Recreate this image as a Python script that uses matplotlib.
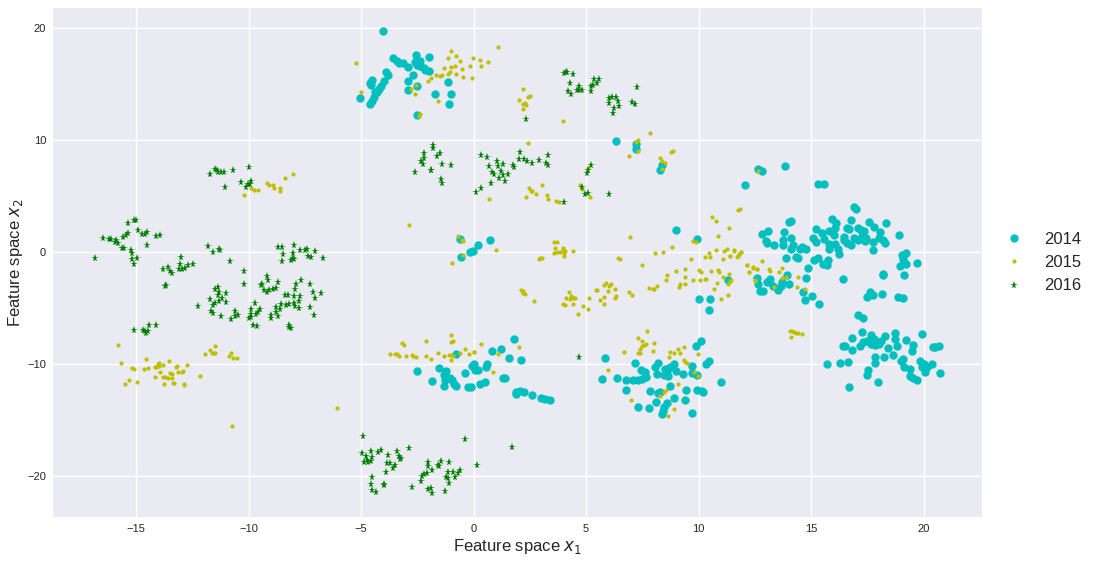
import matplotlib
matplotlib.use("Agg")
import matplotlib.pyplot as plt

years = ["2014", "2015", "2016"]
tick_x = [-15, -10, -5, 0, 5, 10, 15, 20]
tick_y = [-20, -10, 0, 10, 20]

points_2014 = [
    # upper centre group
    (-4.03,19.73),(-1.96,17.4),(-2.56,17.6),(-3.56,17.3),(-3.41,17.1),(-3.29,16.9),(-3.14,16.9),(-2.9,16.57),
    (-2.6,16.95),(-2.37,17.05),(-2.52,16.75),(-2.37,16.65),(-2.22,16.45),(-2.15,16.27),(-2.0,16.2),(-2.7,15.8),
    (-3.88,16.06),(-3.78,15.82),(-2.89,15.25),(-4.0,15.3),(-4.52,15.4),(-4.62,15.1),(-4.56,14.95),(-4.12,14.87),
    (-4.18,14.57),(-4.37,14.27),(-4.27,14.33),(-5.04,13.76),(-4.44,13.82),(-4.52,13.52),(-4.62,13.25),(-2.92,14.5),
    (-2.52,14.87),(-1.14,15.2),(-1.73,14.15),(-0.98,14.09),(-1.08,13.25),(-2.53,12.24),
    (6.33,9.9),(7.21,9.64),(7.21,9.19),(8.36,7.79),(8.31,7.34),
    # right group
    (12.66,7.4),(12.83,7.25),(13.84,7.7),(12.05,6.0),(15.33,6.06),(15.59,6.09),(16.91,4.06),(16.99,3.82),
    (14.02,2.69),(14.12,2.78),(15.95,2.99),(16.13,2.6),(16.07,2.18),(15.24,2.09),(16.78,2.84),(16.62,2.18),
    (16.71,2.06),(17.11,2.18),(17.58,2.72),(17.79,2.21),(18.32,2.63),(18.07,1.82),(18.93,1.49),(12.83,1.58),
    (13.09,1.85),(13.78,1.76),(15.5,1.67),(15.82,1.85),(16.01,1.52),(15.1,1.28),(15.22,0.93),(15.56,1.13),
    (16.47,1.34),(16.45,1.04),(16.59,0.84),(16.77,0.6),(16.91,1.28),(17.08,1.1),(17.21,1.94),(17.36,1.85),
    (17.26,1.4),(17.43,1.28),(17.4,0.96),(17.77,0.93),(18.04,1.22),(18.19,1.1),(18.29,0.78),(17.77,0.15),
    (13.02,0.96),(13.06,0.78),(13.34,0.63),(13.77,1.04),(13.77,0.6),(14.11,1.22),(14.21,0.63),(14.09,0.27),
    (14.58,0.48),(14.51,0.24),(14.76,0.27),(15.82,0.75),(15.79,0.3),(16.08,0.75),(16.19,0.3),(16.25,-0.15),
    (13.9,-0.51),(14.32,-0.42),(14.42,-0.57),(15.3,-0.51),(15.15,-0.69),(15.74,-0.72),(15.53,-1.1),(15.71,-1.13),
    (14.88,-1.43),(19.23,-0.12),(19.04,-0.3),(19.11,-0.6),(18.96,-1.25),(19.24,-1.1),(19.7,-0.96),(19.15,-2.03),
    (18.19,-1.97),(18.22,-2.09),(16.44,-2.39),(13.95,-2.03),(14.78,-2.3),(12.61,-2.27),(12.64,-2.84),(13.04,-2.69),
    (13.18,-2.39),(13.32,-2.99),(13.69,-2.69),(13.65,-3.07),(13.52,-3.37),(14.0,-2.84),(12.73,-3.46),(12.86,-3.52),
    (14.66,-3.55),(15.04,-3.91),(14.73,-4.27),(15.34,-4.66),(17.6,-3.55),(17.48,-3.97),(17.74,-3.82),(18.15,-3.7),
    (18.86,-3.97),(19.09,-4.12),(17.11,-5.58),(17.3,-5.88),
    # lower right group
    (17.28,-7.13),(16.82,-7.67),(17.67,-7.37),(18.3,-7.49),(18.73,-7.25),(19.93,-7.31),(19.2,-7.82),(16.41,-8.42),
    (16.51,-8.39),(16.81,-8.78),(17.18,-8.36),(17.33,-8.06),(17.48,-7.97),(17.63,-7.91),(17.78,-7.76),(17.67,-8.21),
    (17.86,-8.27),(18.01,-8.21),(18.12,-7.91),(18.72,-7.76),(18.81,-8.36),(18.44,-8.57),(18.66,-9.22),(18.26,-9.4),
    (17.85,-9.4),(17.86,-9.91),(19.53,-8.27),(19.5,-8.81),(20.41,-8.45),(20.52,-8.51),(20.67,-8.39),(19.09,-9.55),
    (19.01,-9.7),(19.85,-9.7),(20.0,-10.0),(20.39,-10.0),(19.15,-10.3),(19.41,-10.45),(19.93,-10.3),(20.15,-10.3),
    (20.07,-10.75),(20.74,-10.84),(19.41,-11.04),(19.53,-11.25),(19.7,-11.43),(15.7,-10.03),(16.31,-9.94),(16.65,-9.85),
    (17.52,-10.54),(17.48,-10.96),(17.97,-11.58),(16.71,-12.03),
    # lower centre group
    (1.78,-7.72),(0.81,-8.79),(1.23,-8.64),(1.57,-9.44),(2.12,-9.62),(-0.76,-9.08),(-2.52,-10.62),(-1.54,-10.38),
    (-1.23,-10.65),(-1.84,-11.54),(-1.33,-11.01),(-1.26,-11.45),(-1.29,-11.92),(-1.04,-11.21),(-0.96,-11.45),(-0.86,-11.75),
    (-0.79,-11.92),(-0.4,-10.83),(-0.07,-10.21),(0.03,-10.03),(0.07,-10.5),(0.22,-10.56),(0.55,-10.3),(0.59,-9.97),
    (-0.24,-12.07),(-0.1,-12.04),(0.3,-11.8),(0.53,-11.63),(1.3,-11.24),(1.42,-11.24),(1.87,-12.46),(1.88,-12.69),
    (2.07,-12.43),(2.25,-12.49),(2.58,-12.72),(3.01,-13.02),(3.19,-13.14),(3.41,-13.25),
    (5.84,-9.5),(5.73,-11.36),(6.36,-11.24),(6.77,-11.45),(6.77,-12.28),(7.11,-11.39),(7.33,-11.39),(7.51,-11.33),
    (7.67,-11.15),(7.19,-9.88),(7.44,-10.56),(7.63,-10.71),(8.22,-9.88),(8.06,-10.3),(8.15,-10.86),(8.49,-10.41),
    (8.63,-10.41),(8.74,-10.27),(8.92,-10.03),(9.01,-10.59),(8.47,-11.01),(8.64,-11.07),(9.33,-10.86),(9.7,-10.77),
    (9.93,-10.95),(9.71,-10.15),(9.91,-8.43),(10.12,-7.93),(10.33,-10.03),(10.45,-9.73),(10.99,-11.63),(7.84,-12.37),
    (8.19,-12.6),(8.31,-12.46),(8.74,-11.98),(9.44,-12.34),(9.93,-12.28),(10.15,-12.37),(10.21,-12.51),(8.89,-13.02),
    (9.39,-13.17),(8.13,-13.4),(8.58,-13.49),(7.29,-13.82),(7.78,-13.93),(8.46,-13.88),(8.41,-14.17),(8.36,-14.47),
    (9.69,-14.35),
    # central scatter
    (-0.62,1.19),(-0.56,-0.42),(-0.15,0.0),(-0.04,0.06),(0.22,0.63),(0.74,1.04),(8.99,1.99),(9.94,1.13),
    (11.3,-2.53),(10.01,-4.17),(10.49,-4.2),(10.46,-5.18),
]

points_2015 = [
    # upper centre group
    (1.1,18.3),(-0.98,17.94),(-0.76,17.55),(-1.13,17.34),(-0.61,17.1),(-0.01,17.31),(0.31,17.13),(0.64,16.99),
    (-0.84,16.66),(-0.98,16.51),(-1.29,16.42),(-0.49,16.39),(-0.15,16.6),(0.33,16.6),(-1.05,16.12),(-1.14,15.88),
    (-0.79,15.88),(-1.66,15.85),(-1.51,15.73),(-1.41,15.79),(-1.88,15.55),(-2.03,15.28),(-0.47,15.64),(-0.06,15.52),
    (-2.55,14.93),(-2.79,14.54),(-2.62,14.12),(-1.56,13.49),(-5.23,16.9),(-5.0,14.27),(-2.37,12.3),(-2.44,12.18),
    (2.21,14.54),(2.5,13.94),(2.4,13.82),(2.03,13.55),(2.21,13.19),(2.34,13.13),(2.31,13.34),(2.19,12.75),
    (3.99,11.7),(2.43,9.76),(7.84,10.66),(7.3,10.0),(7.23,9.85),(7.33,9.04),(6.89,8.6),(8.87,9.07),(8.76,8.96),
    (8.28,8.39),(8.37,8.15),(8.49,8.0),(8.37,7.43),(5.1,7.49),(4.74,6.03),(4.8,5.67),(5.16,4.96),(2.47,5.7),
    (2.56,5.46),(2.62,5.43),(2.76,5.19),(3.05,6.03),(2.33,4.93),(3.26,5.07),(3.3,4.75),(3.66,4.6),(3.78,4.48),
    (0.68,4.75),
    # upper left group
    (-9.17,6.19),(-9.07,5.98),(-8.92,6.01),(-8.86,5.71),(-8.38,6.64),(-8.04,6.93),(-8.58,5.71),(-8.62,5.42),
    (-9.57,5.54),(-9.75,5.57),(-9.9,5.68),(-10.18,5.06),
    # right side
    (12.64,7.28),(11.77,3.76),(11.84,3.82),(11.57,0.15),(11.88,0.0),(11.8,-0.2),(11.72,-0.42),(11.39,-0.39),
    (12.8,-0.78),(12.15,-1.13),(12.4,-1.4),(12.6,-1.55),(12.24,-1.79),(13.15,-1.55),(13.17,-1.67),(13.69,-1.43),
    (13.59,-1.82),(13.87,-2.24),(13.69,-2.3),(14.41,-2.2),(12.49,-2.54),(11.42,-2.57),(14.36,-3.13),(14.72,-3.31),
    (13.34,-3.16),(14.07,-7.04),(14.16,-7.07),(14.25,-7.1),(14.33,-7.19),(14.42,-7.25),(14.58,-7.28),(14.09,-7.61),
    # lower centre group
    (-3.2,-8.08),(-3.08,-8.34),(-2.13,-7.96),(-0.99,-7.37),(-0.99,-7.99),(-0.9,-7.9),(-3.72,-9.14),(-3.5,-9.14),
    (-3.39,-9.11),(-3.3,-9.32),(-3.02,-9.32),(-2.73,-9.2),(-2.69,-9.32),(-2.55,-9.35),(-2.09,-9.29),(-1.9,-9.53),
    (-1.6,-8.99),(-1.33,-9.26),(-1.07,-9.23),(-0.98,-9.23),(-0.89,-9.29),(-0.99,-9.62),(-0.61,-9.02),(-0.36,-8.64),
    (-0.22,-9.14),(0.0,-8.88),(0.04,-8.91),(0.33,-8.22),(1.08,-9.14),(0.87,-10.74),(2.04,-8.49),
    (7.73,-7.01),(7.33,-7.66),(7.47,-7.9),(7.67,-8.2),(7.56,-8.31),(7.51,-8.43),(7.42,-8.64),(7.3,-9.02),
    (7.42,-9.02),(8.0,-8.14),(7.97,-8.82),(6.7,-8.88),(8.73,-8.93),(8.89,-8.99),(9.08,-8.7),(9.19,-8.99),
    (9.36,-8.52),(8.68,-9.35),(9.97,-9.14),(9.36,-9.62),(9.41,-9.85),(9.47,-9.88),(9.82,-10.74),(9.99,-11.07),
    (5.97,-10.56),(9.08,-11.8),(8.56,-12.28),(8.47,-12.49),(8.28,-12.87),(6.99,-13.25),(8.92,-14.05),(8.64,-14.62),
    # central scatter
    (-0.67,1.46),(-0.52,1.07),(-0.47,0.95),(-0.47,-0.3),(-0.96,-0.98),(1.01,0.18),(6.95,1.34),(3.57,0.89),
    (3.72,0.86),(3.63,0.33),(3.96,0.36),(3.56,-0.06),(3.73,-0.03),(3.85,0.03),(3.96,0.15),(4.06,0.12),(4.0,-0.06),
    (4.0,-0.36),(4.41,0.06),(2.89,-0.62),(2.96,-0.57),(3.04,-0.51),(6.4,-0.54),(6.49,-0.65),(2.09,-3.42),
    (2.19,-3.48),(2.22,-3.63),(2.28,-3.78),(2.71,-4.4),(4.24,-3.54),(4.1,-4.11),(4.33,-3.93),(4.27,-4.17),
    (4.4,-4.08),(4.52,-4.14),(3.99,-4.64),(4.07,-4.76),(4.44,-4.67),(4.87,-4.82),(5.11,-5.09),(4.64,-5.57),
    (5.13,-4.14),(5.45,-3.39),(5.51,-3.39),(5.91,-2.74),(5.82,-2.98),(6.0,-3.04),(6.12,-2.89),(5.99,-3.48),
    (6.3,-3.3),(5.79,-4.02),(5.63,-4.26),(5.82,-4.61),(6.34,-3.93),(6.3,-4.08),(6.89,-3.54),(7.05,-3.87),
    (7.51,-1.16),(8.06,-0.06),(8.44,0.03),(8.83,0.42),(7.79,-3.21),(7.96,-3.3),(8.03,-3.3),(8.16,-3.0),
    (8.59,-2.08),(8.55,-2.47),(9.02,-1.67),(9.42,-1.52),(9.66,-0.65),(9.38,-2.23),(9.38,-2.89),(9.19,-2.89),
    (9.14,-3.15),(9.75,-2.53),(9.75,0.98),(9.91,0.89),(10.0,-1.58),(10.13,-1.79),(10.07,-2.53),(10.28,-2.41),
    (10.34,-2.41),(10.55,-1.7),(10.87,-1.64),(10.92,-1.79),(11.36,-1.93),(11.11,-2.23),(10.83,-2.8),(10.68,-3.3),
    (10.99,-4.2),(11.33,-3.84),(11.44,-2.53),(11.32,-2.83),(10.28,-0.45),(10.53,-0.45),(10.47,-0.12),(10.77,0.18),
    (11.14,0.12),(11.26,0.3),(11.1,-0.62),(11.42,-0.39),(11.59,0.12),(11.75,-0.39),(11.82,-0.21),(11.9,0.0),
    (12.16,-1.13),(12.25,-1.79),(12.41,-1.37),(12.62,-1.55),(12.5,-2.53),(10.62,3.1),(10.77,2.8),(11.35,2.11),
    (10.87,1.4),
    # lower left group and stragglers
    (-15.81,-8.27),(-15.65,-9.94),(-15.16,-10.33),(-15.1,-10.48),(-15.31,-11.46),(-15.49,-11.76),(-14.94,-11.58),
    (-14.54,-9.52),(-14.66,-10.48),(-14.45,-10.39),(-14.17,-10.27),(-14.1,-10.27),(-14.04,-10.18),(-13.99,-9.94),
    (-14.04,-10.03),(-13.99,-10.18),(-13.8,-10.06),(-13.54,-9.76),(-13.24,-10.27),(-13.2,-10.18),(-12.74,-10.09),
    (-13.92,-10.71),(-14.17,-11.19),(-13.8,-11.13),(-13.7,-11.13),(-13.59,-11.22),(-13.42,-11.25),(-13.49,-10.8),
    (-13.39,-10.86),(-13.14,-10.74),(-12.97,-10.74),(-12.91,-10.6),(-13.77,-11.82),(-13.36,-11.7),(-13.31,-11.7),
    (-12.88,-11.76),(-12.87,-11.85),(-12.16,-11.1),(-11.49,-8.42),(-11.69,-8.72),(-11.95,-9.14),(-11.61,-9.02),
    (-11.55,-9.05),(-11.49,-9.02),(-10.8,-9.05),(-10.86,-9.26),(-10.68,-9.49),(-10.49,-9.49),(-10.74,-15.5),
    (-6.06,-13.93),(-2.86,2.41),
]

points_2016 = [
    # upper centre groups
    (4.09,16.12),(4.15,16.06),(4.03,15.97),(4.44,15.94),(4.31,15.13),(4.22,14.42),(4.33,14.12),(4.71,14.87),
    (4.59,14.48),(4.71,14.48),(4.83,14.48),(5.23,14.87),(5.21,14.42),(5.36,15.46),(5.57,15.43),(5.5,15.1),
    (5.29,14.96),(6.01,13.76),(6.15,13.88),(6.33,13.82),(6.44,13.52),(6.47,13.07),(6.25,12.84),(6.18,12.45),
    (6.04,13.31),(7.05,13.37),(7.16,13.22),(7.26,14.72),(2.33,11.88),(-1.79,9.55),(-1.78,9.28),(-2.22,8.87),
    (-2.19,8.39),(-2.33,8.15),(-2.24,7.85),(-1.5,8.81),(-1.64,8.54),(-1.39,7.85),(-1.02,7.79),(-2.58,7.13),
    (-1.88,7.37),(-1.9,7.3),(-1.43,6.51),(-1.42,6.15),(0.33,8.66),(0.59,8.51),(0.68,7.73),(1.04,8.15),
    (1.07,7.7),(1.3,7.88),(0.84,7.13),(0.93,6.99),(1.24,7.25),(1.29,6.9),(1.13,6.66),(1.53,6.99),(1.41,6.36),
    (0.77,6.18),(0.34,5.76),(0.13,5.4),(1.75,7.79),(1.78,7.61),(2.07,8.93),(2.0,8.33),(2.25,8.27),(2.37,8.15),
    (2.59,8.0),(2.93,8.24),(3.29,8.69),(3.23,7.97),(3.3,7.82),(5.21,7.76),(5.11,7.31),(5.05,7.04),(4.81,5.85),
    (4.96,5.19),(5.07,5.25),(6.03,5.19),(4.04,4.48),
    # left groups
    (-11.5,7.44),(-11.41,7.29),(-11.37,7.11),(-11.23,7.11),(-11.11,7.11),(-11.69,6.93),(-10.71,7.29),(-9.97,7.59),
    (-11.05,5.83),(-10.34,6.22),(-9.91,6.34),(-9.93,6.1),(-10.03,6.04),(-10.1,5.77),(-15.09,2.83),(-14.99,2.83),
    (-15.34,2.59),(-14.93,1.99),(-14.53,1.82),(-14.75,1.64),(-14.6,1.64),(-15.34,1.73),(-15.43,1.55),(-15.58,1.31),
    (-14.11,1.46),(-13.92,1.49),(-16.47,1.22),(-16.22,1.16),(-16.13,1.19),(-15.9,1.1),(-15.92,0.89),(-15.8,0.8),
    (-15.64,0.36),(-15.53,0.33),(-15.24,0.21),(-15.19,-0.09),(-14.53,0.65),(-16.82,-0.54),(-15.16,-0.63),(-14.96,-0.57),
    (-15.07,-1.07),(-13.0,-0.48),(-13.04,-1.07),(-12.48,-1.1),(-12.7,-1.19),(-12.81,-1.4),(-12.97,-1.49),(-13.1,-1.55),
    (-13.78,-1.52),(-13.59,-1.37),(-13.5,-1.7),(-13.38,-1.9),(-13.65,-2.92),(-13.72,-3.04),(-15.09,-6.93),(-14.69,-6.99),
    (-14.59,-7.02),(-14.47,-7.02),(-14.54,-7.2),(-14.41,-6.52),(-14.09,-6.49),(-11.8,0.51),(-11.57,-0.03),(-11.31,0.27),
    (-11.25,0.15),(-10.83,-0.77),(-10.19,-1.73),(-10.19,-2.83),(-12.24,-4.82),(-11.5,-3.33),(-11.36,-3.13),(-11.31,-3.57),
    (-11.71,-4.23),(-11.02,-3.63),(-11.34,-3.87),(-11.17,-4.11),(-11.33,-4.4),(-11.47,-4.55),(-11.59,-4.7),(-11.02,-4.43),
    (-11.65,-5.24),(-11.56,-5.48),(-11.23,-5.74),(-10.58,-5.24),(-10.62,-5.68),(-10.46,-5.63),(-10.77,-6.01),(-9.69,-4.55),
    (-9.88,-5.09),(-9.91,-5.51),(-10.0,-5.89),(-9.9,-5.8),(-9.51,-5.12),(-9.6,-5.36),(-9.66,-5.57),(-9.79,-6.49),
    (-9.64,-6.61),(-9.18,-2.14),(-9.12,-2.5),(-8.71,-2.68),(-9.38,-2.86),(-9.45,-2.95),(-9.3,-3.42),(-9.17,-3.57),
    (-9.11,-3.42),(-8.92,-3.3),(-8.8,-3.21),(-8.37,-3.81),(-8.25,-3.81),(-7.88,-2.83),(-7.67,-2.5),(-7.25,-2.83),
    (-7.95,-3.27),(-8.0,-3.96),(-7.69,-3.93),(-7.14,-3.57),(-6.78,-3.63),(-7.03,-4.08),(-7.25,-4.91),(-7.11,-5.6),
    (-8.55,-4.67),(-8.33,-4.76),(-8.21,-4.67),(-8.0,-4.55),(-7.77,-4.38),(-7.92,-4.85),(-7.74,-4.97),(-8.78,-4.91),
    (-8.62,-5.12),(-8.78,-5.36),(-8.99,-5.65),(-8.99,-5.86),(-8.71,-5.74),(-8.19,-6.52),(-8.1,-6.76),(-8.2,-6.7),
    (-8.68,0.45),(-8.52,0.48),(-7.99,0.6),(-8.46,-0.21),(-8.01,-0.09),(-8.01,-0.57),(-8.09,-0.68),(-8.49,-0.83),
    (-7.97,-0.63),(-7.7,0.18),(-7.49,0.18),(-7.4,0.24),(-7.03,0.06),(-7.36,-0.39),(-7.21,-0.45),(-6.71,-0.54),
    # lower groups
    (4.71,-9.38),(-0.39,-16.72),(1.73,-17.37),(0.15,-19.02),(-2.01,-18.79),(-2.03,-19.08),(-1.6,-19.05),(-1.54,-19.14),
    (-1.45,-18.7),(-1.08,-18.73),(-1.84,-19.47),(-2.07,-19.73),(-2.19,-19.79),(-2.27,-20.03),(-2.34,-20.41),(-1.14,-19.67),
    (-1.21,-20.09),(-1.14,-20.21),(-1.07,-20.62),(-0.89,-19.64),(-0.67,-19.73),(-0.62,-19.44),(-0.81,-20.06),(-2.04,-21.12),
    (-1.91,-21.07),(-1.85,-21.54),(-1.27,-21.3),(-4.9,-16.43),(-4.96,-17.98),(-4.56,-17.74),(-4.26,-17.83),(-4.13,-17.71),
    (-4.76,-18.21),(-4.51,-18.27),(-4.73,-18.57),(-4.85,-18.78),(-4.7,-18.72),(-4.56,-18.66),(-3.79,-18.13),(-3.86,-18.87),
    (-3.73,-18.87),(-3.47,-19.02),(-3.59,-19.26),(-3.87,-19.61),(-3.39,-17.77),(-3.33,-18.18),(-3.22,-18.42),(-3.28,-18.48),
    (-2.85,-17.47),(-4.53,-20.12),(-4.54,-20.71),(-4.51,-21.25),(-4.35,-21.43),(-3.99,-20.71),(-3.96,-20.77),(-2.75,-21.01),
]

plt.style.use("seaborn-v0_8")
plt.rcParams["font.family"] = ["Liberation Sans", "DejaVu Sans"]

fig = plt.figure(figsize=(10.95, 5.62), dpi=100)
ax = fig.add_axes([53 / 1095, 1 - 517 / 562, 929 / 1095, 509 / 562])

styles = (("o", "c", 6), (".", "y", 6), ("*", "g", 5.8))
for pts, (marker, colour, size), year in zip((points_2014, points_2015, points_2016), styles, years):
    xs, ys = zip(*pts)
    ax.plot(xs, ys, linestyle="none", marker=marker, color=colour, markersize=size, label=year)

ax.set_xlim(-18.69, 22.6)
ax.set_ylim(-23.66, 21.8)
ax.set_xticks(tick_x)
ax.set_yticks(tick_y)
ax.tick_params(labelsize=8, pad=5)
ax.set_xlabel(r"Feature space $x_1$", fontsize=12, labelpad=2)
ax.set_ylabel(r"Feature space $x_2$", fontsize=12, labelpad=1.5)
ax.legend(loc="center left", bbox_to_anchor=(1.0, 0.5), fontsize=12, frameon=False)

fig.savefig("out.png", dpi=100)
